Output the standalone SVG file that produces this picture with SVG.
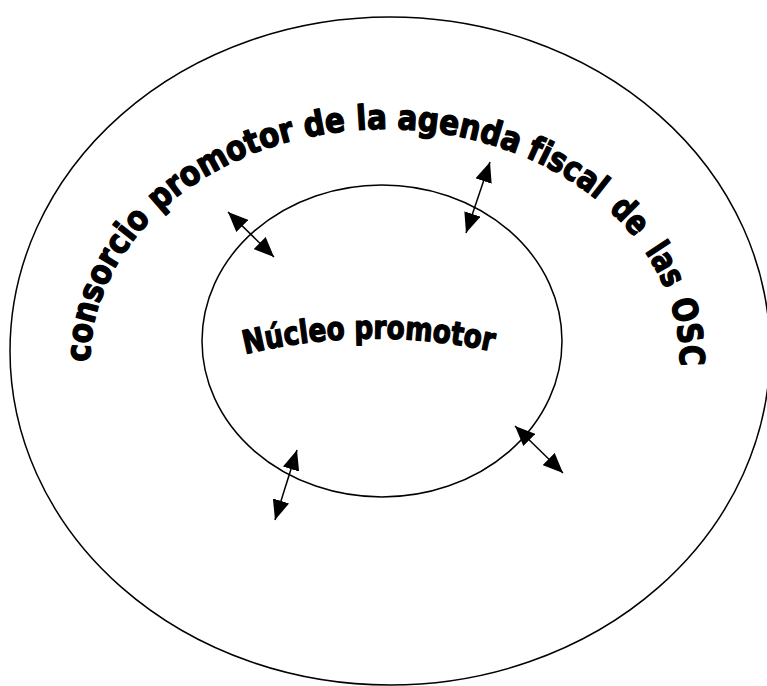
<svg xmlns="http://www.w3.org/2000/svg" width="767" height="686" viewBox="0 0 767 686">
  <style>
    .ring { fill: none; stroke: #000; stroke-width: 1.5; }
    .conn { stroke: #000; stroke-width: 1.5; fill: none; marker-start: url(#ah); marker-end: url(#ah); }
    .lbl { font-family: "DejaVu Sans", "Liberation Sans", sans-serif; font-weight: 700; fill: #000; stroke: #000; stroke-width: 1.4; stroke-linejoin: round; font-variant-ligatures: none; }
  </style>
  <defs>
    <marker id="ah" viewBox="0 0 20 17" refX="20" refY="8.5" markerWidth="20" markerHeight="17" markerUnits="userSpaceOnUse" orient="auto-start-reverse">
      <path d="M0,0 L20,8.5 L0,17 z" fill="#000"/>
    </marker>
    <path id="outerArc" d="M 90 362 A 295 233 0 1 1 680 362"/>
    <path id="innerArc" d="M 245 354 Q 370 324 495 352"/>
  </defs>
  <g id="outer">
    <ellipse class="ring" cx="390" cy="351" rx="380" ry="334"/>
    <g id="outer-label" class="lbl" font-size="34">
      <text><textPath href="#outerArc" startOffset="0" textLength="159" lengthAdjust="spacingAndGlyphs">consorcio</textPath></text>
      <text><textPath href="#outerArc" startOffset="170" textLength="156" lengthAdjust="spacingAndGlyphs">promotor</textPath></text>
      <text><textPath href="#outerArc" startOffset="336" textLength="41" lengthAdjust="spacingAndGlyphs">de</textPath></text>
      <text><textPath href="#outerArc" startOffset="388" textLength="30" lengthAdjust="spacingAndGlyphs">la</textPath></text>
      <text><textPath href="#outerArc" startOffset="428" textLength="123" lengthAdjust="spacingAndGlyphs">agenda</textPath></text>
      <text><textPath href="#outerArc" startOffset="560" textLength="84" lengthAdjust="spacingAndGlyphs">fiscal</textPath></text>
      <text><textPath href="#outerArc" startOffset="659" textLength="38" lengthAdjust="spacingAndGlyphs">de</textPath></text>
      <text><textPath href="#outerArc" startOffset="714" textLength="43" lengthAdjust="spacingAndGlyphs">las</textPath></text>
      <text><textPath href="#outerArc" startOffset="770" textLength="66" lengthAdjust="spacingAndGlyphs">OSC</textPath></text>
    </g>
  </g>
  <g id="inner">
    <ellipse class="ring" cx="382" cy="341" rx="180" ry="156"/>
    <text class="lbl" font-size="32"><textPath href="#innerArc" textLength="250" lengthAdjust="spacingAndGlyphs">Núcleo promotor</textPath></text>
  </g>
  <g id="connectors">
    <line class="conn" x1="228" y1="212" x2="274" y2="257"/>
    <line class="conn" x1="490" y1="162" x2="466" y2="233"/>
    <line class="conn" x1="297" y1="450" x2="275" y2="520"/>
    <line class="conn" x1="515" y1="426" x2="563" y2="473"/>
  </g>
</svg>
